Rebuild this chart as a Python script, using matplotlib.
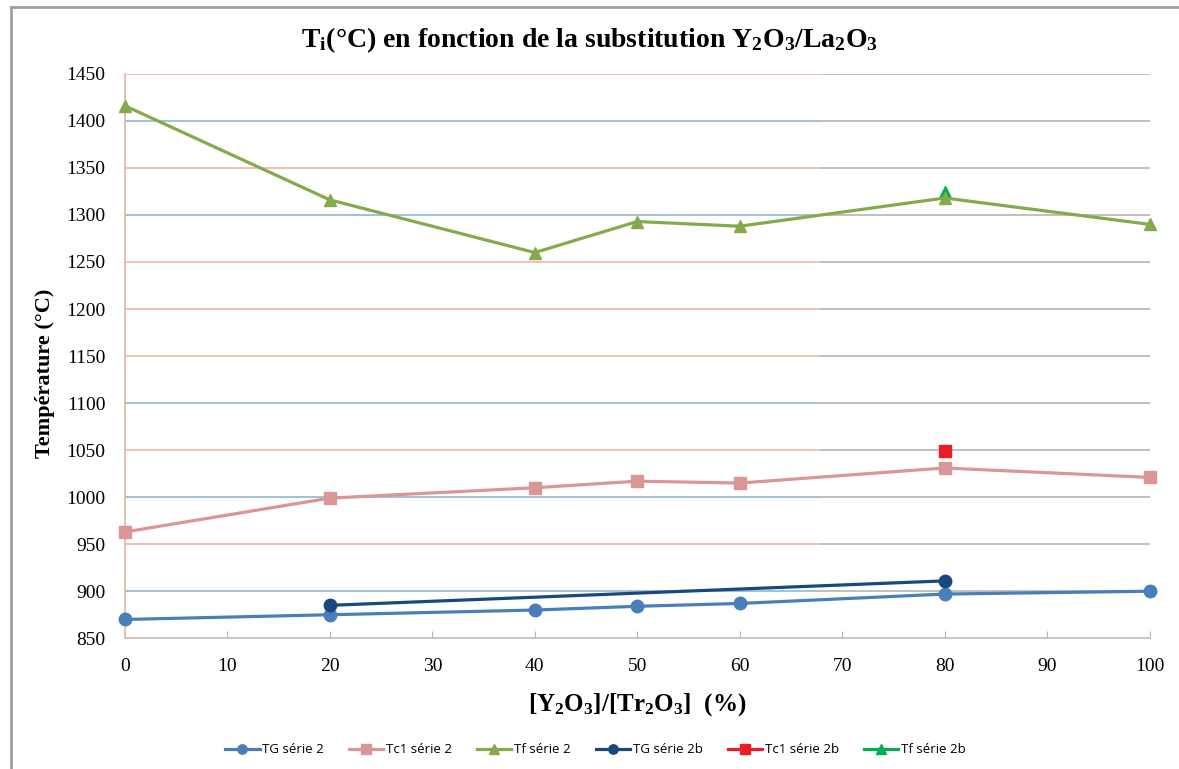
import matplotlib
matplotlib.use("Agg")
import matplotlib.pyplot as plt
from matplotlib.lines import Line2D

plt.rcParams["mathtext.fontset"] = "custom"
plt.rcParams["mathtext.rm"] = "Liberation Serif:bold"
plt.rcParams["mathtext.it"] = "Liberation Serif:bold"
plt.rcParams["mathtext.bf"] = "Liberation Serif:bold"

x_full = [0, 20, 40, 50, 60, 80, 100]
tg_serie2 = [870, 875, 880, 884, 887, 897, 900]
tc1_serie2 = [963, 999, 1010, 1017, 1015, 1031, 1021]
tf_serie2 = [1416, 1316, 1260, 1293, 1288, 1318, 1290]

x_2b = [20, 80]
tg_serie2b = [885, 911]
x_single = [80]
tc1_serie2b = [1049]
tf_serie2b = [1324]

y_ticks = list(range(850, 1451, 50))
x_ticks = list(range(0, 101, 10))

fig = plt.figure(figsize=(11.79, 7.69), dpi=100)
ax = fig.add_axes([0.106, 0.170, 0.869, 0.734])

# gridlines: coloured on the left part, grey on the right part
split = 67.8
for yv in y_ticks:
    if yv == 850:
        continue
    left_col = "#f2b5a8" if (yv // 50) % 2 == 1 or yv == 1200 else "#8fb6cf"
    ax.hlines(yv, 0, split, color=left_col, lw=1.2, zorder=1)
    ax.hlines(yv, split, 100, color="#b5b5b5", lw=1.2, zorder=1)

ax.plot(x_full, tg_serie2, color="#4a7ebb", lw=2.3, marker="o", ms=9, label="TG série 2", zorder=3, clip_on=False)
ax.plot(x_full, tc1_serie2, color="#d99694", lw=2.3, marker="s", ms=9, label="Tc1 série 2", zorder=3, clip_on=False)
ax.plot(x_full, tf_serie2, color="#84aa4c", lw=2.3, marker="^", ms=9, label="Tf série 2", zorder=3, clip_on=False)
ax.plot(x_2b, tg_serie2b, color="#17497e", lw=2.3, marker="o", ms=9, label="TG série 2b", zorder=4, clip_on=False)
ax.plot(x_single, tc1_serie2b, color="#ed1c24", lw=2.3, marker="s", ms=9, label="Tc1 série 2b", zorder=4, clip_on=False)
ax.plot(x_single, tf_serie2b, color="#00b050", lw=2.3, marker="^", ms=9, label="Tf série 2b", zorder=2, clip_on=False)

ax.set_xlim(0, 100)
ax.set_ylim(850, 1450)
ax.set_xticks(x_ticks)
ax.set_yticks(y_ticks)
ax.tick_params(axis="x", direction="in", length=5, color="#b5b5b5", pad=14,
               labelsize=14)
ax.tick_params(axis="y", length=0, pad=14, labelsize=14)
for lab in ax.get_xticklabels() + ax.get_yticklabels():
    lab.set_fontfamily("Liberation Serif")

for s in ["top", "right"]:
    ax.spines[s].set_visible(False)
ax.spines["left"].set_color("#e8b2a8")
ax.spines["bottom"].set_color("#c8b8b5")
ax.spines["left"].set_linewidth(1.2)
ax.spines["bottom"].set_linewidth(1.2)

ax.set_ylabel("Température (°C)", fontfamily="Liberation Serif", fontweight="bold",
              fontsize=16)
ax.yaxis.set_label_coords(-0.068, 0.47)
ax.set_xlabel("[Y$_2$O$_3$]/[Tr$_2$O$_3$]  (%)", fontfamily="Liberation Serif",
              fontweight="bold", fontsize=18, labelpad=12)

fig.text(0.5, 0.948, "T$_i$(°C) en fonction de la substitution Y$_2$O$_3$/La$_2$O$_3$",
         ha="center", va="center", fontfamily="Liberation Serif", fontweight="bold",
         fontsize=20)

fig.legend(loc="center", bbox_to_anchor=(0.505, 0.025), ncol=6, frameon=False,
           prop={"family": "Open Sans", "size": 9.5}, handlelength=2.6,
           columnspacing=1.9, handletextpad=0.2, markerscale=0.75)

# outer frame lines
fig.add_artist(Line2D([0.009, 0.009], [0, 0.991], color="#a0a0a0", lw=2))
fig.add_artist(Line2D([0.009, 1.0], [0.991, 0.991], color="#a0a0a0", lw=2))

fig.savefig("out.png", dpi=100)
